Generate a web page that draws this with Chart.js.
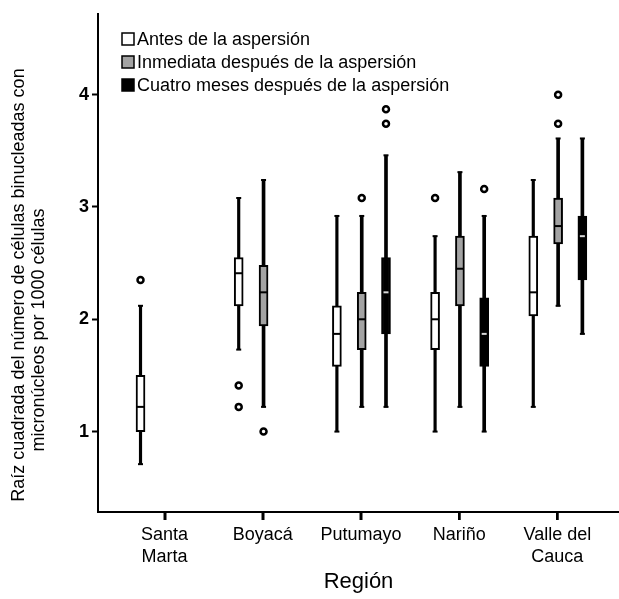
<!DOCTYPE html>
<html><head><meta charset="utf-8">
<script src="https://cdn.jsdelivr.net/npm/chart.js@4.4.0/dist/chart.umd.min.js"></script>
<style>html,body{margin:0;padding:0;background:#fff}#wrap{width:619px;height:599px}</style>
</head><body><div id="wrap"><canvas id="c" width="619" height="599"></canvas></div>
<script>
// ---------- data ----------
const categories = ['Santa Marta', 'Boyacá', 'Putumayo', 'Nariño', 'Valle del Cauca'];
const tickLabels = [['Santa', 'Marta'], ['Boyacá'], ['Putumayo'], ['Nariño'], ['Valle del', 'Cauca']];
const yTicks = [1, 2, 3, 4];
const seriesNames = ['Antes de la aspersión', 'Inmediata después de la aspersión', 'Cuatro meses después de la aspersión'];

const antesMin = [0.71, 1.73, 1.00, 1.00, 1.22];
const antesQ1 = [1.00, 2.12, 1.58, 1.73, 2.03];
const antesMed = [1.22, 2.41, 1.87, 2.00, 2.24];
const antesQ3 = [1.50, 2.55, 2.12, 2.24, 2.74];
const antesMax = [2.12, 3.08, 2.92, 2.74, 3.24];
const antesOut = [[2.35], [1.41, 1.22], [], [3.08], []];

const inmMin = [null, 1.22, 1.22, 1.22, 2.12];
const inmQ1 = [null, 1.94, 1.73, 2.12, 2.67];
const inmMed = [null, 2.24, 2.00, 2.45, 2.83];
const inmQ3 = [null, 2.48, 2.24, 2.74, 3.08];
const inmMax = [null, 3.24, 2.92, 3.31, 3.61];
const inmOut = [[], [1.00], [3.08], [], [4.00, 3.74]];

const cuaMin = [null, null, 1.22, 1.00, 1.87];
const cuaQ1 = [null, null, 1.87, 1.58, 2.35];
const cuaMed = [null, null, 2.24, 1.87, 2.74];
const cuaQ3 = [null, null, 2.55, 2.19, 2.92];
const cuaMax = [null, null, 3.46, 2.92, 3.61];
const cuaOut = [[], [], [3.87, 3.74], [3.16], []];

// ---------- build ----------
const FONT = "'Liberation Sans', Arial, Helvetica, sans-serif";
Chart.defaults.font.family = FONT;
Chart.defaults.color = '#000';

const series = [
  {name: seriesNames[0], min: antesMin, q1: antesQ1, med: antesMed, q3: antesQ3, max: antesMax, out: antesOut, fill: '#ffffff', medColor: '#000', off: -0.245},
  {name: seriesNames[1], min: inmMin, q1: inmQ1, med: inmMed, q3: inmQ3, max: inmMax, out: inmOut, fill: '#a3a3a3', medColor: '#000', off: 0.008},
  {name: seriesNames[2], min: cuaMin, q1: cuaQ1, med: cuaMed, q3: cuaQ3, max: cuaMax, out: cuaOut, fill: '#000000', medColor: '#d8d8d8', off: 0.255}
];

const datasets = [];
series.forEach((s, si) => {
  const whisk = [], box = [], outs = [];
  categories.forEach((c, i) => {
    const x = i + 1 + s.off;
    if (s.q1[i] !== null) {
      whisk.push({x: x, y: [s.min[i], s.max[i]], lo: s.min[i], hi: s.max[i]});
      box.push({x: x, y: [s.q1[i], s.q3[i]], med: s.med[i]});
    }
    s.out[i].forEach(v => outs.push({x: x, y: v}));
  });
  datasets.push({type: 'bar', label: s.name + ' bigotes', data: whisk, backgroundColor: '#000', borderWidth: 0,
    barThickness: si === 0 ? 2.5 : 3, grouped: false, order: 5, role: 'whisker'});
  datasets.push({type: 'bar', label: s.name, data: box, backgroundColor: s.fill, borderColor: '#000', borderWidth: 2,
    borderSkipped: false, barThickness: 9, grouped: false, order: 2, role: 'box', medColor: s.medColor, legendFill: s.fill});
  datasets.push({type: 'scatter', label: s.name + ' atípicos', data: outs, backgroundColor: '#fff', borderColor: '#000',
    pointRadius: 3, pointBorderWidth: 2.5, pointHoverRadius: 3, showLine: false, order: 0, role: 'outlier'});
});

const boxExtras = {
  id: 'boxExtras',
  afterDatasetsDraw(chart) {
    const ctx = chart.ctx, xs = chart.scales.x, ys = chart.scales.y;
    ctx.save();
    chart.data.datasets.forEach(ds => {
      if (ds.role === 'whisker') {
        ds.data.forEach(p => {
          const px = xs.getPixelForValue(p.x);
          ctx.strokeStyle = '#000'; ctx.lineWidth = 2;
          [p.lo, p.hi].forEach(v => {
            const py = ys.getPixelForValue(v);
            ctx.beginPath(); ctx.moveTo(px - 2.5, py); ctx.lineTo(px + 2.5, py); ctx.stroke();
          });
        });
      }
      if (ds.role === 'box') {
        ds.data.forEach(p => {
          const px = xs.getPixelForValue(p.x);
          const py = ys.getPixelForValue(p.med);
          ctx.strokeStyle = ds.medColor;
          ctx.lineWidth = 2;
          const hw = ds.medColor === '#000' ? 4 : 2.5;
          ctx.beginPath(); ctx.moveTo(px - hw, py); ctx.lineTo(px + hw, py); ctx.stroke();
        });
      }
    });
    ctx.restore();
  },
  afterDraw(chart) {
    const ctx = chart.ctx, xs = chart.scales.x;
    ctx.save();
    // x tick marks at category positions
    ctx.fillStyle = '#000';
    const base = chart.chartArea.bottom;
    categories.forEach((c, i) => {
      const px = Math.round(xs.getPixelForValue(i + 1));
      ctx.fillRect(px - 1, base, 2.5, 8);
    });
    // legend
    const boxes = chart.data.datasets.filter(d => d.role === 'box');
    const rowsY = [39, 62, 85];
    ctx.font = '18px ' + FONT;
    ctx.textBaseline = 'middle';
    ctx.textAlign = 'left';
    boxes.forEach((d, i) => {
      const y = rowsY[i];
      ctx.fillStyle = d.legendFill;
      ctx.fillRect(122, y - 6, 12, 12);
      ctx.strokeStyle = '#000'; ctx.lineWidth = 1.5;
      ctx.strokeRect(122, y - 6, 12, 12);
      ctx.fillStyle = '#000';
      ctx.fillText(d.label, 137, y + 1);
    });
    // y axis title (two lines)
    ctx.font = '18px ' + FONT;
    ctx.textAlign = 'center';
    ctx.fillStyle = '#000';
    ctx.translate(19, 285);
    ctx.rotate(-Math.PI / 2);
    ctx.fillText('Raíz cuadrada del número de células binucleadas con', 0, 0);
    ctx.fillText('micronúcleos por 1000 células', -45, 20);
    ctx.restore();
  }
};

new Chart(document.getElementById('c'), {
  type: 'bar',
  data: {datasets: datasets},
  options: {
    responsive: false, animation: false, devicePixelRatio: 1,
    layout: {autoPadding: false, padding: {top: 10, right: 0, bottom: 0, left: 0}},
    plugins: {legend: {display: false}, tooltip: {enabled: false}},
    scales: {
      x: {
        type: 'linear', min: 0.322, max: 5.628, offset: false,
        afterBuildTicks: s => { s.ticks = categories.map((c, i) => ({value: i + 1})); },
        afterFit: s => { s.height = 87; },
        ticks: {callback: v => tickLabels[v - 1], autoSkip: false, maxRotation: 0, padding: 4,
          font: {size: 18, lineHeight: 1.22}, color: '#000'},
        grid: {display: true, offset: false, drawOnChartArea: false, drawTicks: true, tickLength: 8, tickColor: '#000', tickWidth: 2},
        border: {display: true, color: '#000', width: 2},
        title: {display: true, text: 'Región', font: {size: 22}, color: '#000', padding: {top: 0, bottom: 4}}
      },
      y: {
        type: 'linear', min: 0.284, max: 4.72,
        afterBuildTicks: s => { s.ticks = yTicks.map(v => ({value: v})); },
        afterFit: s => { s.width = 98; },
        ticks: {font: {size: 18, weight: 'bold'}, color: '#000', padding: 3},
        grid: {display: true, drawOnChartArea: false, drawTicks: true, tickLength: 6, tickColor: '#000', tickWidth: 2},
        border: {display: true, color: '#000', width: 2}
      }
    }
  },
  plugins: [boxExtras]
});
</script></body></html>
